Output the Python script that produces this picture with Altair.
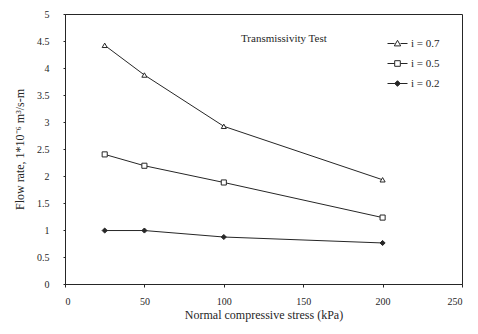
import altair as alt
import pandas as pd

series = ["i = 0.7", "i = 0.5", "i = 0.2"]
stress = [25, 50, 100, 200]
flow_07 = [4.42, 3.87, 2.92, 1.93]
flow_05 = [2.40, 2.19, 1.88, 1.23]
flow_02 = [0.99, 0.99, 0.87, 0.76]
x_ticks = [0, 50, 100, 150, 200, 250]
y_ticks = [0, 0.5, 1, 1.5, 2, 2.5, 3, 3.5, 4, 4.5, 5]

rows = []
for name, vals in zip(series, [flow_07, flow_05, flow_02]):
    for s, v in zip(stress, vals):
        rows.append({"series": name, "stress": s, "flow": v})
df = pd.DataFrame(rows)

INK = "#262626"
FONT = "Liberation Serif"

xenc = alt.X("stress:Q", scale=alt.Scale(domain=[0, 250], nice=False),
             axis=alt.Axis(values=x_ticks, title="Normal compressive stress (kPa)",
                           labelPadding=9, titlePadding=3, tickSize=3, grid=False))
yenc = alt.Y("flow:Q", scale=alt.Scale(domain=[0, 5], nice=False),
             axis=alt.Axis(values=y_ticks, labelExpr="datum.value",
                           title="Flow rate, 1*10⁻⁶ m³/s-m",
                           labelPadding=14, titlePadding=10, tickSize=2, grid=False))

base = alt.Chart(df)

lines = base.mark_line(color=INK, strokeWidth=1).encode(x=xenc, y=yenc, detail="series:N")

points = base.mark_point(filled=True, stroke=INK, strokeWidth=1, size=26, opacity=1).encode(
    x=xenc, y=yenc,
    shape=alt.Shape("series:N", scale=alt.Scale(domain=series, range=["triangle-up", "square", "diamond"]), legend=None),
    fill=alt.Fill("series:N", scale=alt.Scale(domain=series, range=["white", "white", INK]), legend=None),
)

leg_paths = [
    "M-1,0H-0.3M0.3,0H1M0,-0.32L0.32,0.24L-0.32,0.24Z",
    "M-1,0H-0.28M0.28,0H1M-0.28,-0.28H0.28V0.28H-0.28Z",
    "M-1,0H1M0,-0.28L0.28,0L0,0.28L-0.28,0Z",
]
legend = alt.Legend(
    title="Transmissivity Test", titleOrient="left", titleAnchor="start", titleBaseline="top",
    titlePadding=60, titleFont=FONT, titleFontSize=11, titleFontWeight="normal", titleColor=INK,
    labelFont=FONT, labelFontSize=11, labelColor=INK, labelOffset=3,
    symbolSize=400, symbolStrokeWidth=1, symbolStrokeColor=INK, rowPadding=4,
    orient="none", legendX=176, legendY=19,
)
leg_layer = base.transform_filter("false").mark_point(filled=True, stroke=INK, strokeWidth=1, opacity=1).encode(
    x=xenc, y=yenc,
    shape=alt.Shape("series:N", scale=alt.Scale(domain=series, range=leg_paths), legend=legend),
    fill=alt.Fill("series:N", scale=alt.Scale(domain=series, range=["white", "white", INK]), legend=legend),
    stroke=alt.Stroke("series:N", scale=alt.Scale(domain=series, range=[INK, INK, INK]), legend=legend),
)

chart = alt.layer(lines, points, leg_layer).resolve_scale(
    shape="independent", fill="independent", stroke="independent"
).properties(
    width=397, height=270,
    autosize=alt.AutoSizeParams(type="none"),
    padding={"left": 57, "top": 6, "right": 8, "bottom": 48},
    background="white",
).configure_view(stroke=INK, strokeWidth=1).configure_axis(
    labelFont=FONT, titleFont=FONT, labelFontSize=10, titleFontSize=12,
    titleFontWeight="normal", labelColor=INK, titleColor=INK,
    domainColor=INK, tickColor=INK,
)

chart.save("out.html", embed_options={"renderer": "svg", "actions": False})
